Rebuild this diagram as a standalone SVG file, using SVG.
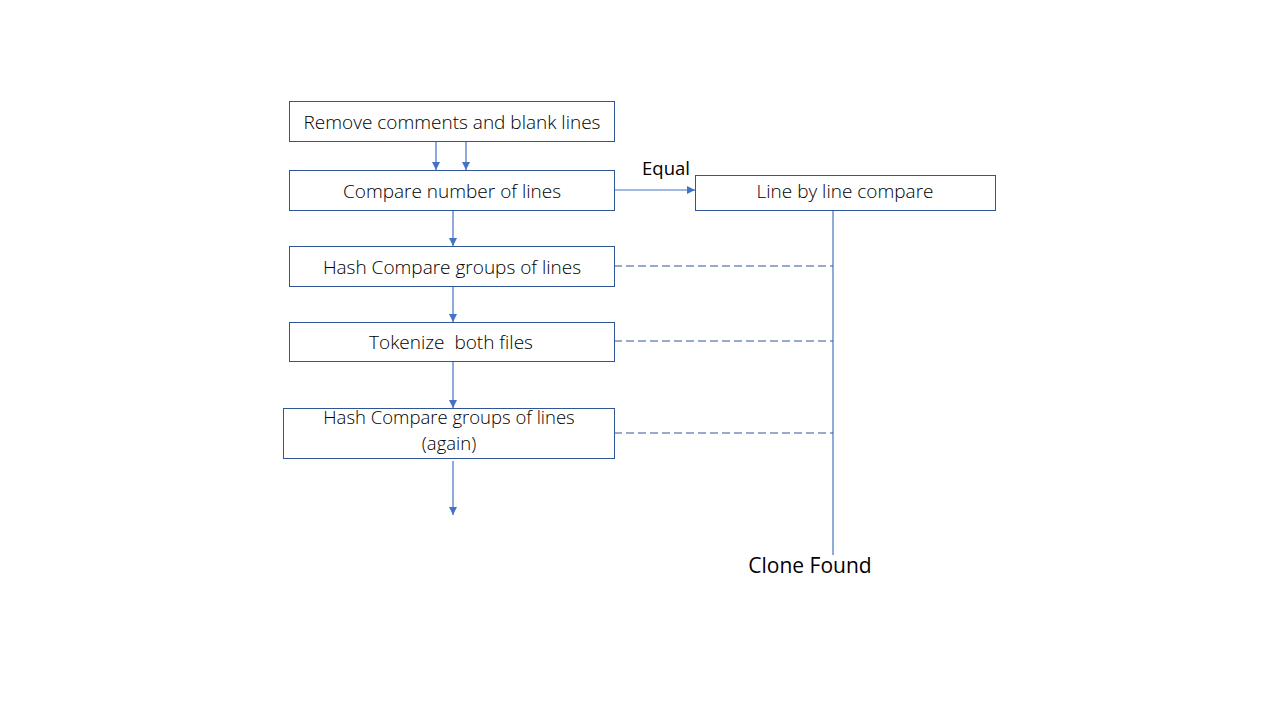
<svg xmlns="http://www.w3.org/2000/svg" width="1280" height="720" viewBox="0 0 1280 720">
<defs>
<marker id="ah" viewBox="0 0 10 10" refX="10" refY="5" markerWidth="8" markerHeight="8" markerUnits="userSpaceOnUse" orient="auto">
<path d="M0,0 L10,5 L0,10 z" fill="#4472C4"/>
</marker>
<style>
.box{fill:#fff;stroke:#2F5597;stroke-width:1}
.t{font-family:"Open Sans","Noto Sans",sans-serif;font-size:19px;font-weight:300;fill:#000;text-anchor:middle;dominant-baseline:central;white-space:pre}
.c{stroke:#4472C4;stroke-width:1.2;fill:none}
.d{stroke:#2F5597;stroke-width:1;fill:none;stroke-dasharray:8,4}
</style>
</defs>
<rect width="1280" height="720" fill="#fff"/>
<g id="connectors">
<line class="c" x1="436" y1="141" x2="436" y2="170" marker-end="url(#ah)"/>
<line class="c" x1="466" y1="141" x2="466" y2="170" marker-end="url(#ah)"/>
<line class="c" x1="614" y1="190" x2="695" y2="190" marker-end="url(#ah)"/>
<line class="c" x1="453" y1="210" x2="453" y2="246" marker-end="url(#ah)"/>
<line class="c" x1="453" y1="286" x2="453" y2="322" marker-end="url(#ah)"/>
<line class="c" x1="453" y1="361" x2="453" y2="408" marker-end="url(#ah)"/>
<line class="c" x1="453" y1="461" x2="453" y2="515" marker-end="url(#ah)"/>
<line class="c" x1="833" y1="210" x2="833" y2="555"/>
<line class="d" x1="614" y1="266" x2="833" y2="266"/>
<line class="d" x1="614" y1="341" x2="833" y2="341"/>
<line class="d" x1="614" y1="433" x2="833" y2="433"/>
<text x="666" y="167" style="font-family:'Open Sans','Noto Sans',sans-serif;font-size:18.5px;fill:#000;text-anchor:middle;dominant-baseline:central">Equal</text>
</g>
<g id="n1"><rect class="box" x="289.5" y="101.5" width="325" height="40"/><text class="t" x="452" y="122">Remove comments and blank lines</text></g>
<g id="n2"><rect class="box" x="289.5" y="170.5" width="325" height="40"/><text class="t" x="452" y="191">Compare number of lines</text></g>
<g id="n3"><rect class="box" x="695.5" y="175.5" width="300" height="35"/><text class="t" x="845" y="191">Line by line compare</text></g>
<g id="n4"><rect class="box" x="289.5" y="246.5" width="325" height="40"/><text class="t" x="452" y="267">Hash Compare groups of lines</text></g>
<g id="n5"><rect class="box" x="289.5" y="322.5" width="325" height="39"/><text class="t" x="451" y="342" xml:space="preserve">Tokenize  both files</text></g>
<g id="n6"><rect class="box" x="283.5" y="408.5" width="331" height="50"/><text class="t" x="449" y="416" style="font-size:18.5px"><tspan x="449" y="416">Hash Compare groups of lines</tspan><tspan x="449" y="442">(again)</tspan></text></g>
<g id="n7"><text x="810" y="565" style="font-family:'Open Sans','Noto Sans',sans-serif;font-size:21px;fill:#000;text-anchor:middle;dominant-baseline:central">Clone Found</text></g>
</svg>
